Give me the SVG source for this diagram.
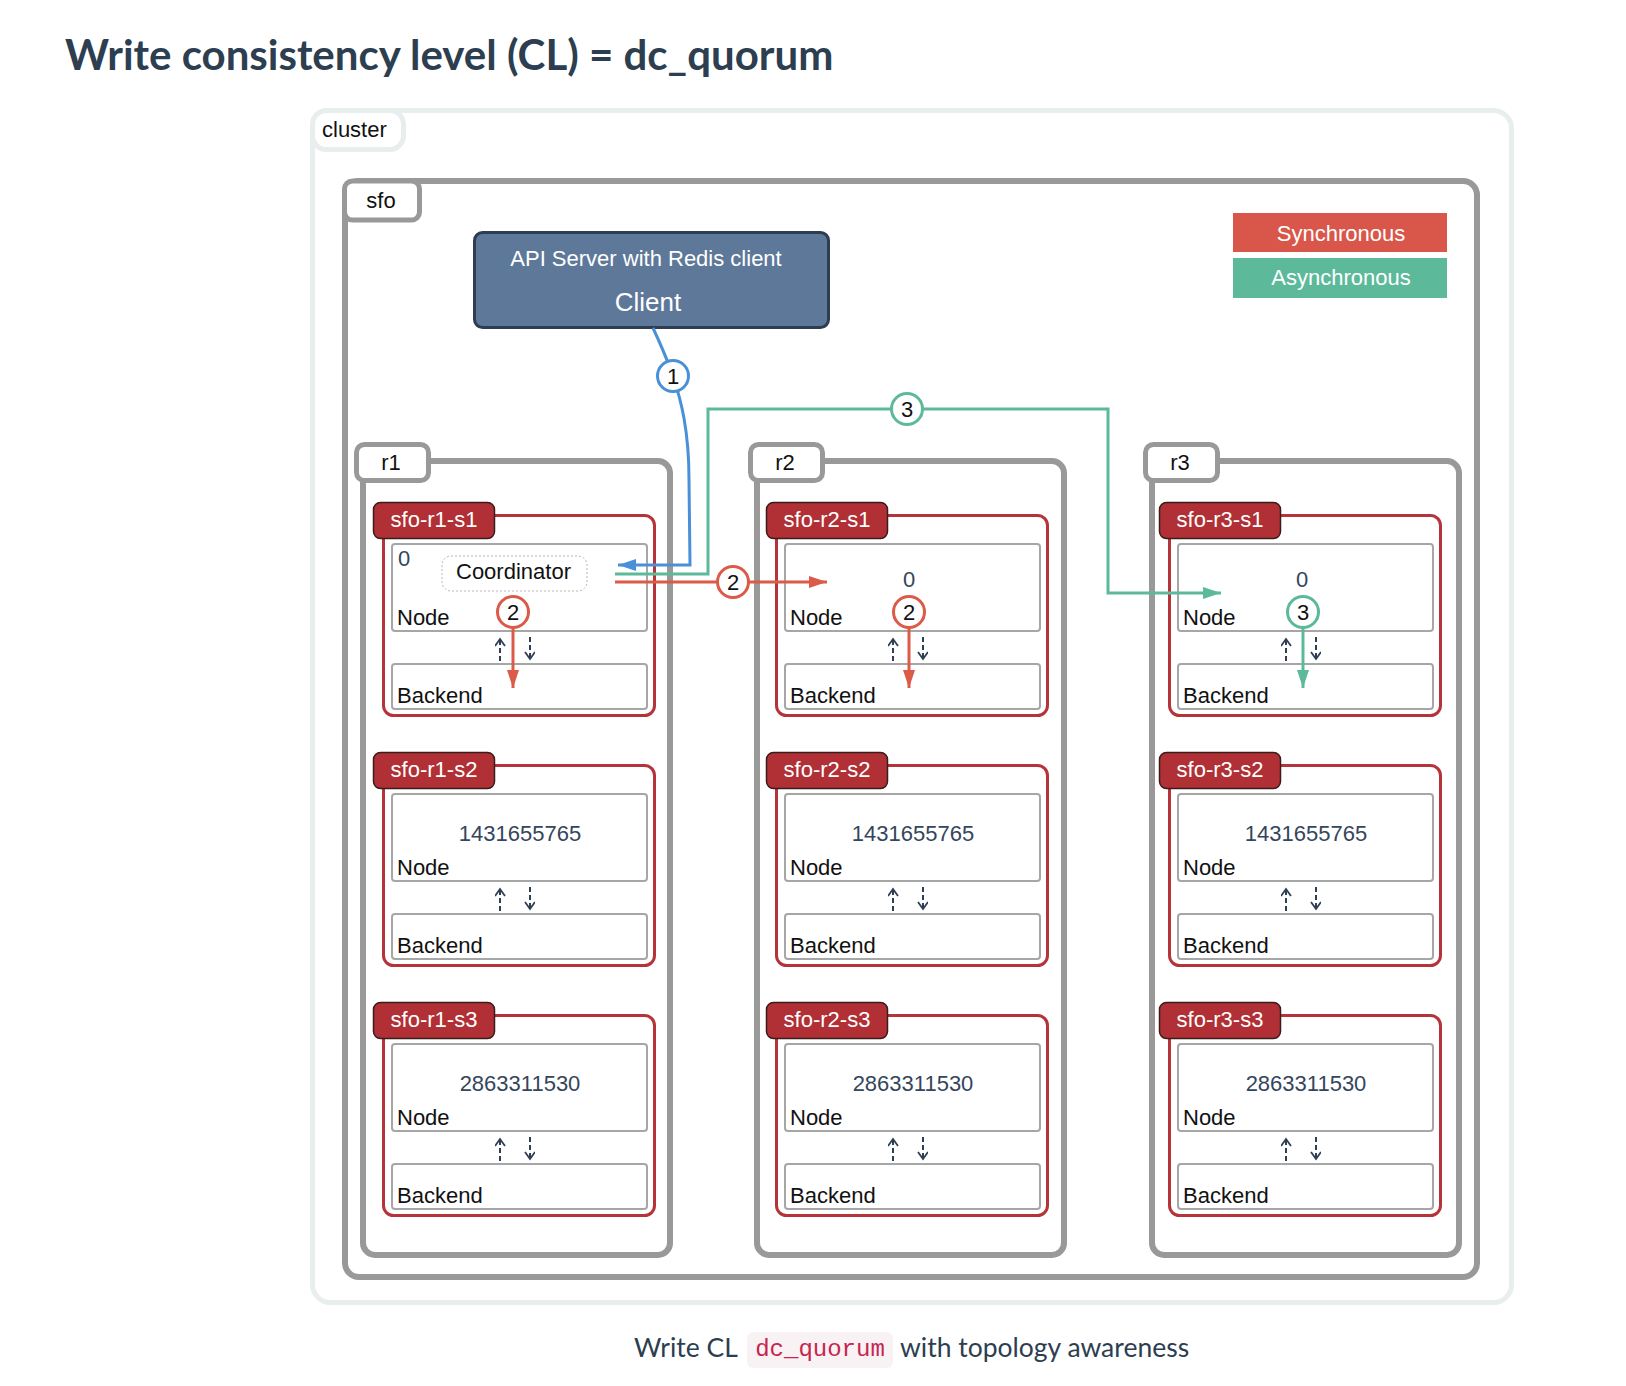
<svg xmlns="http://www.w3.org/2000/svg" width="1626" height="1386" viewBox="0 0 1626 1386">
<style>
.t{font-family:"Liberation Sans",Arial,sans-serif;font-size:22px;fill:#111}
.num{font-family:"Liberation Sans",Arial,sans-serif;font-size:22px;fill:#34465c}
.w{fill:#fff}
.c{text-anchor:middle}
.rbox{fill:#fff;stroke:#999;stroke-width:6}
.rtab{fill:#fff;stroke:#999;stroke-width:5}
.shard{fill:#fff;stroke:#b5343a;stroke-width:3}
.stab{fill:#b03035;stroke:#3a1c1c;stroke-width:1.5}
.inner{fill:#fff;stroke:#a6a6a6;stroke-width:2}
.dash{stroke:#2f3f55;stroke-width:2;stroke-dasharray:5,3;fill:none}
.sync{stroke:#dc5a48;stroke-width:3;fill:none}
.async{stroke:#5cba9b;stroke-width:3;fill:none}
.blue{stroke:#4a90d9;stroke-width:3;fill:none}
.lato{font-family:Lato,"Liberation Sans",sans-serif;fill:#2c3e50}
</style>
<defs>
<marker id="ar" markerUnits="userSpaceOnUse" markerWidth="20" markerHeight="14" refX="18" refY="6" orient="auto"><path d="M0,0 L18,6 L0,12 z" fill="#dc5a48"/></marker>
<marker id="ag" markerUnits="userSpaceOnUse" markerWidth="20" markerHeight="14" refX="18" refY="6" orient="auto"><path d="M0,0 L18,6 L0,12 z" fill="#5cba9b"/></marker>
<marker id="ab" markerUnits="userSpaceOnUse" markerWidth="20" markerHeight="14" refX="18" refY="6" orient="auto"><path d="M0,0 L18,6 L0,12 z" fill="#4a90d9"/></marker>
<marker id="ad" markerUnits="userSpaceOnUse" markerWidth="12" markerHeight="12" refX="8" refY="5" orient="auto"><path d="M1,0 L8,5 L1,10" fill="none" stroke="#2f3f55" stroke-width="1.8"/></marker>
<g id="shardtpl">
<rect class="shard" x="383.5" y="515.5" width="271" height="200" rx="10"/>
<rect class="inner" x="392" y="544" width="255" height="87" rx="3"/>
<rect class="inner" x="392" y="664" width="255" height="45" rx="3"/>
<text class="t" x="397" y="625">Node</text>
<text class="t" x="397" y="703">Backend</text>
<line class="dash" x1="500" y1="661" x2="500" y2="639" marker-end="url(#ad)"/>
<line class="dash" x1="530" y1="637" x2="530" y2="659" marker-end="url(#ad)"/>
</g>
</defs>
<rect width="1626" height="1386" fill="#fff"/>
<text class="lato" x="65" y="70" font-size="42" font-weight="bold">Write consistency level (CL) = dc_quorum</text>

<g id="cluster">
<rect x="312.5" y="110.5" width="1199" height="1192" rx="18" fill="#fff" stroke="#e8eded" stroke-width="5"/>
<rect x="312.5" y="110.5" width="91" height="39" rx="14" fill="#fff" stroke="#e8eded" stroke-width="5"/>
<text class="t" x="322" y="137">cluster</text>
</g>

<g id="sfo">
<rect class="rbox" x="345" y="181" width="1132" height="1096" rx="14"/>
<rect class="rtab" x="344.5" y="181" width="75" height="39" rx="8"/>
<text class="t c" x="381" y="208">sfo</text>
</g>

<g id="client">
<rect x="474.5" y="232.5" width="354" height="95" rx="8" fill="#5d7899" stroke="#2c3e50" stroke-width="3"/>
<text class="t w c" x="646" y="266">API Server with Redis client</text>
<text class="t w c" x="648" y="311" style="font-size:26px">Client</text>
</g>

<g id="legend">
<rect x="1233" y="213" width="214" height="39" fill="#d9574a"/>
<text class="t w c" x="1341" y="241">Synchronous</text>
<rect x="1233" y="258" width="214" height="40" fill="#5cba9b"/>
<text class="t w c" x="1341" y="285">Asynchronous</text>
</g>

<g id="r1">
<rect class="rbox" x="363" y="461" width="307" height="794" rx="12"/>
<rect class="rtab" x="356.5" y="444.5" width="72" height="36" rx="8"/>
<text class="t c" x="391" y="470">r1</text>
</g>
<g id="r2" transform="translate(394,0)">
<rect class="rbox" x="363" y="461" width="307" height="794" rx="12"/>
<rect class="rtab" x="356.5" y="444.5" width="72" height="36" rx="8"/>
<text class="t c" x="391" y="470">r2</text>
</g>
<g id="r3" transform="translate(789,0)">
<rect class="rbox" x="363" y="461" width="307" height="794" rx="12"/>
<rect class="rtab" x="356.5" y="444.5" width="72" height="36" rx="8"/>
<text class="t c" x="391" y="470">r3</text>
</g>

<g id="sfo-r1-s1">
<use href="#shardtpl"/>
<rect class="stab" x="373.5" y="502.5" width="121" height="36" rx="7"/>
<text class="t w c" x="434" y="527">sfo-r1-s1</text>
<text class="num" x="398" y="566">0</text>
<rect x="442" y="556" width="145" height="35" rx="9" fill="#fff" stroke="#b5b5b5" stroke-width="1" stroke-dasharray="2,2"/>
<text class="t" x="456" y="579">Coordinator</text>
</g>
<g id="sfo-r1-s2" transform="translate(0,250)">
<use href="#shardtpl"/>
<rect class="stab" x="373.5" y="502.5" width="121" height="36" rx="7"/>
<text class="t w c" x="434" y="527">sfo-r1-s2</text>
<text class="num c" x="520" y="591">1431655765</text>
</g>
<g id="sfo-r1-s3" transform="translate(0,500)">
<use href="#shardtpl"/>
<rect class="stab" x="373.5" y="502.5" width="121" height="36" rx="7"/>
<text class="t w c" x="434" y="527">sfo-r1-s3</text>
<text class="num c" x="520" y="591">2863311530</text>
</g>

<g id="sfo-r2-s1" transform="translate(393,0)">
<use href="#shardtpl"/>
<rect class="stab" x="373.5" y="502.5" width="121" height="36" rx="7"/>
<text class="t w c" x="434" y="527">sfo-r2-s1</text>
<text class="num c" x="516" y="587">0</text>
</g>
<g id="sfo-r2-s2" transform="translate(393,250)">
<use href="#shardtpl"/>
<rect class="stab" x="373.5" y="502.5" width="121" height="36" rx="7"/>
<text class="t w c" x="434" y="527">sfo-r2-s2</text>
<text class="num c" x="520" y="591">1431655765</text>
</g>
<g id="sfo-r2-s3" transform="translate(393,500)">
<use href="#shardtpl"/>
<rect class="stab" x="373.5" y="502.5" width="121" height="36" rx="7"/>
<text class="t w c" x="434" y="527">sfo-r2-s3</text>
<text class="num c" x="520" y="591">2863311530</text>
</g>

<g id="sfo-r3-s1" transform="translate(786,0)">
<use href="#shardtpl"/>
<rect class="stab" x="373.5" y="502.5" width="121" height="36" rx="7"/>
<text class="t w c" x="434" y="527">sfo-r3-s1</text>
<text class="num c" x="516" y="587">0</text>
</g>
<g id="sfo-r3-s2" transform="translate(786,250)">
<use href="#shardtpl"/>
<rect class="stab" x="373.5" y="502.5" width="121" height="36" rx="7"/>
<text class="t w c" x="434" y="527">sfo-r3-s2</text>
<text class="num c" x="520" y="591">1431655765</text>
</g>
<g id="sfo-r3-s3" transform="translate(786,500)">
<use href="#shardtpl"/>
<rect class="stab" x="373.5" y="502.5" width="121" height="36" rx="7"/>
<text class="t w c" x="434" y="527">sfo-r3-s3</text>
<text class="num c" x="520" y="591">2863311530</text>
</g>

<g id="connectors">
<path class="blue" d="M653,328 C661,345 668,362 673,376 C681,400 689,430 689,480 L690,565 L618,565" marker-end="url(#ab)"/>
<path class="async" d="M615,574 L708,574 L708,409 L1108,409 L1108,593 L1221,593" marker-end="url(#ag)"/>
<path class="sync" d="M615,582 L827,582" marker-end="url(#ar)"/>
<line class="sync" x1="513" y1="626" x2="513" y2="688" marker-end="url(#ar)"/>
<line class="sync" x1="909" y1="626" x2="909" y2="688" marker-end="url(#ar)"/>
<line class="async" x1="1303" y1="626" x2="1303" y2="688" marker-end="url(#ag)"/>
<g class="t c">
<circle cx="673" cy="376" r="15.5" fill="#fff" stroke="#4a90d9" stroke-width="3"/>
<text x="673" y="384">1</text>
<circle cx="907" cy="409" r="15.5" fill="#fff" stroke="#5cba9b" stroke-width="3"/>
<text x="907" y="417">3</text>
<circle cx="733" cy="582" r="15.5" fill="#fff" stroke="#dc5a48" stroke-width="3"/>
<text x="733" y="590">2</text>
<circle cx="513" cy="612" r="15.5" fill="#fff" stroke="#dc5a48" stroke-width="3"/>
<text x="513" y="620">2</text>
<circle cx="909" cy="612" r="15.5" fill="#fff" stroke="#dc5a48" stroke-width="3"/>
<text x="909" y="620">2</text>
<circle cx="1303" cy="612" r="15.5" fill="#fff" stroke="#5cba9b" stroke-width="3"/>
<text x="1303" y="620">3</text>
</g>
</g>

<g id="caption">
<text class="lato" x="634" y="1357" font-size="26.5">Write CL</text>
<rect x="747" y="1332" width="146" height="36" rx="6" fill="#f9f2f4"/>
<text x="820" y="1356" font-family="'Liberation Mono','DejaVu Sans Mono',monospace" font-size="24" fill="#c7254e" text-anchor="middle">dc_quorum</text>
<text class="lato" x="900" y="1357" font-size="26.5">with topology awareness</text>
</g>
</svg>
